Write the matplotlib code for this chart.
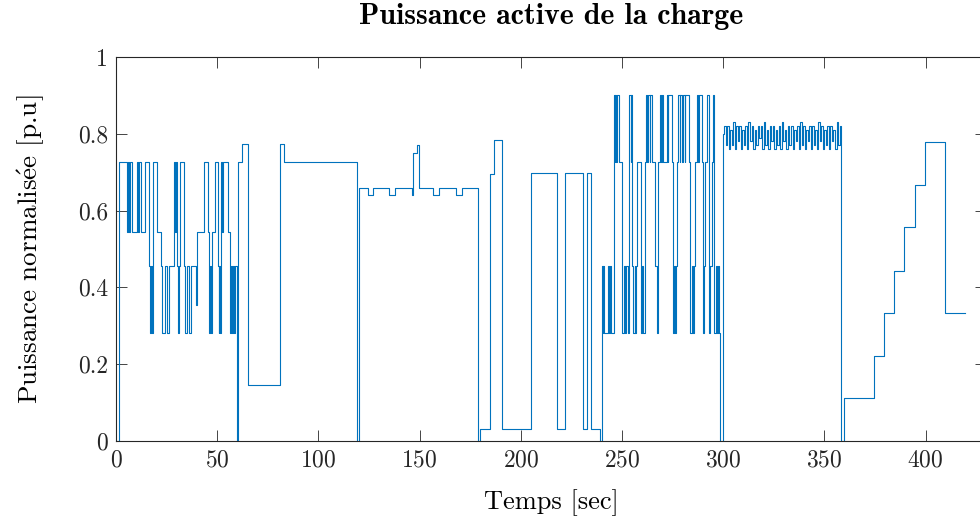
import matplotlib
matplotlib.use("Agg")
import matplotlib.pyplot as plt
import numpy as np

plt.rcParams['font.family'] = 'cmr10'
plt.rcParams['mathtext.fontset'] = 'cm'
plt.rcParams['axes.formatter.use_mathtext'] = True

# 0 - 120 s : switching between discrete load levels
t_a = [0, 1.2, 5.5, 6.0, 6.3, 6.7, 8.0, 10.2, 10.8, 11.3,
       12.1, 14.3, 16.3, 16.8, 17.3, 17.6, 18.0, 18.4, 20.0, 22.0,
       22.8, 24.0, 25.3, 26.1, 28.6, 29.2, 29.7, 30.3, 30.8, 31.2,
       31.6, 33.7, 34.2, 34.9, 36.2, 37.0, 39.7, 39.9, 43.6, 45.3,
       46.1, 46.6, 47.1, 47.5, 49.0, 50.2, 50.6, 51.0, 51.4, 51.8,
       52.5, 53.0, 55.1, 56.3, 56.8, 57.3, 57.8, 58.4, 58.9, 59.5,
       60.4, 62.4, 65.3, 81.0, 83.1, 119.2]
p_a = [0, .727, .545, .727, .545, .727, .545, .727, .545, .727,
       .545, .727, .455, .28, .455, .28, .455, .727, .545, .455,
       .28, .455, .28, .455, .727, .545, .727, .455, .28, .455,
       .727, .455, .28, .455, .28, .455, .354, .545, .727, .545,
       .28, .455, .28, .545, .727, .455, .28, .455, .28, .727,
       .545, .727, .545, .28, .455, .28, .455, .28, .455, 0,
       .727, .773, .145, .773, .727, 0]

# 120 - 240 s
t_b = [120.2, 124.6, 126.8, 135.0, 137.8, 146.0, 146.9, 148.5, 149.7, 156.7,
       159.7, 167.9, 170.7, 179.0, 179.8, 184.7, 186.7, 190.8, 204.8, 218.0,
       221.8, 230.8, 232.8, 234.5, 239.3]
p_b = [.66, .64, .66, .64, .66, .64, .75, .77, .66, .64,
       .66, .64, .66, 0, .03, .695, .785, .03, .697, .03,
       .697, .03, .697, .03, 0]

# 240 - 300 s
t_c = [240.1, 240.4, 240.7, 241.1, 243.0, 243.4, 243.8, 244.3, 245.8, 246.3,
       246.6, 247.2, 247.5, 248.3, 249.9, 250.9, 251.5, 252.1, 252.9, 253.5,
       254.2, 254.5, 255.0, 255.6, 256.2, 256.6, 257.0, 257.4, 259.2, 259.8,
       260.4, 261.1, 261.9, 262.5, 262.8, 263.6, 263.9, 264.9, 266.1, 267.1,
       267.7, 268.9, 269.4, 269.7, 270.4, 272.0, 272.6, 272.9, 274.6, 275.0,
       275.5, 276.0, 276.5, 276.9, 277.8, 278.5, 278.8, 279.8, 280.1, 281.0,
       281.3, 283.0, 283.5, 284.3, 285.0, 285.5, 286.0, 286.8, 287.5, 287.8,
       289.3, 289.8, 290.3, 290.9, 291.8, 293.1, 293.6, 294.3, 294.8, 295.5,
       296.2, 296.8, 297.4, 298.0, 298.4]
p_c = [.455, .28, .455, .28, .455, .28, .455, .28, .9, .727,
       .9, .727, .9, .727, .28, .455, .28, .455, .28, .9,
       .727, .9, .455, .28, .455, .28, .455, .727, .28, .455,
       .28, .727, .9, .727, .9, .727, .9, .727, .455, .28,
       .727, .9, .727, .9, .727, .9, .727, .9, .727, .28,
       .455, .28, .455, .727, .9, .727, .9, .727, .9, .727,
       .9, .727, .28, .455, .28, .455, .727, .9, .727, .9,
       .727, .28, .455, .727, .9, .28, .455, .727, .9, .28,
       .455, .28, .455, .28, 0]

# 300 - 360 s : fluctuating load around 0.8
noise_start = 299.7
noise_dt = 0.75
p_noise = [0.80, 0.82, 0.77, 0.82, 0.76, 0.81, 0.77, 0.83, 0.76, 0.82,
           0.78, 0.82, 0.76, 0.81, 0.77, 0.82, 0.76, 0.83, 0.78, 0.82,
           0.76, 0.81, 0.77, 0.82, 0.79, 0.82, 0.76, 0.83, 0.77, 0.81,
           0.76, 0.82, 0.78, 0.82, 0.76, 0.81, 0.77, 0.82, 0.76, 0.83,
           0.78, 0.81, 0.76, 0.82, 0.77, 0.82, 0.76, 0.81, 0.78, 0.82,
           0.76, 0.83, 0.77, 0.82, 0.76, 0.81, 0.78, 0.82, 0.76, 0.82,
           0.77, 0.81, 0.76, 0.83, 0.78, 0.82, 0.76, 0.81, 0.77, 0.82,
           0.76, 0.82, 0.78, 0.81, 0.76, 0.83, 0.77, 0.82]
t_noise = noise_start + noise_dt * np.arange(len(p_noise))

# 360 - 420 s : staircase
t_d = [358.2, 359.6, 374.5, 379.5, 384.5, 389.5, 394.5, 399.5, 409.5, 419.5]
p_d = [0, .111, .222, .333, .444, .556, .667, .778, .333, .333]

t = np.concatenate([t_a, t_b, t_c, t_noise, t_d])
p = np.concatenate([p_a, p_b, p_c, p_noise, p_d])

fig = plt.figure(figsize=(9.8, 5.19), dpi=100)
ax = fig.add_axes([116.1 / 980, 78 / 519, 870.3 / 980, 384 / 519])

ax.step(t, p, where='post', color='#0072BD', lw=0.8)

ax.set_xlim(0, 430)
ax.set_ylim(0, 1)
ax.set_xticks(np.arange(0, 401, 50))
ax.set_yticks([0, 0.2, 0.4, 0.6, 0.8, 1])
ax.set_yticklabels(['0', '0.2', '0.4', '0.6', '0.8', '1'])

ax.tick_params(direction='in', length=8, width=0.6, colors='#262626',
               labelsize=17, top=True, right=True, pad=6)
for s in ax.spines.values():
    s.set_color('#262626')
    s.set_linewidth(0.8)

ax.set_xlabel('Temps [sec]', fontsize=19, labelpad=13)
ax.set_ylabel(r'Puissance normalis$\mathrm{\acute{e}}$e [p.u]', fontsize=19.5, labelpad=22)
ax.set_title('Puissance active de la charge', fontsize=21.5, fontfamily='cmb10', pad=24)

fig.savefig('out.png', dpi=100)
